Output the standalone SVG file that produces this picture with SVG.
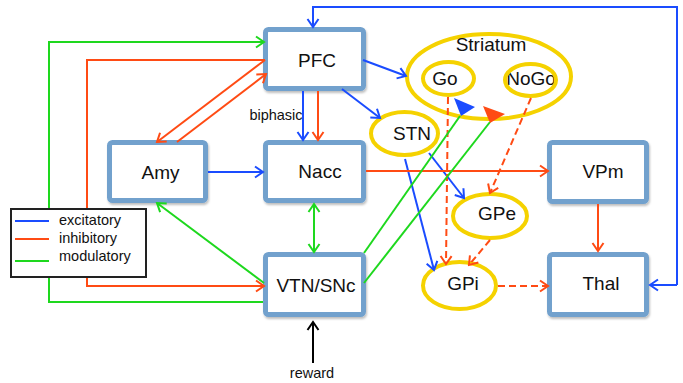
<svg xmlns="http://www.w3.org/2000/svg" width="683" height="383" viewBox="0 0 683 383">
  <defs>
    <style>
      .box { fill: #ffffff; stroke: #72a1cd; stroke-width: 5; }
      .oval { fill: none; stroke: #f5d200; stroke-width: 4; }
      .lbl { font-family: "Liberation Sans", Arial, sans-serif; font-size: 19px; fill: #111111; text-anchor: middle; }
      .small { font-family: "Liberation Sans", Arial, sans-serif; font-size: 14.5px; fill: #111111; }
      .ln { fill: none; stroke-width: 2; }
      .exc { stroke: #1a4cff; }
      .inh { stroke: #ff4b14; }
      .mod { stroke: #1ed81e; }
      .blk { stroke: #000000; }
      .dash { stroke-dasharray: 7 4; }
    </style>
    <filter id="shadow" x="-10%" y="-10%" width="130%" height="130%">
      <feDropShadow dx="1" dy="2" stdDeviation="1.2" flood-color="#000000" flood-opacity="0.25"/>
    </filter>
    <marker id="aBlue" markerUnits="userSpaceOnUse" markerWidth="12" markerHeight="14" viewBox="0 0 12 14" refX="10" refY="7" orient="auto-start-reverse">
      <path d="M2,1.5 L10,7 L2,12.5" fill="none" stroke="#1a4cff" stroke-width="2"/>
    </marker>
    <marker id="aRed" markerUnits="userSpaceOnUse" markerWidth="12" markerHeight="14" viewBox="0 0 12 14" refX="10" refY="7" orient="auto-start-reverse">
      <path d="M2,1.5 L10,7 L2,12.5" fill="none" stroke="#ff4b14" stroke-width="2"/>
    </marker>
    <marker id="aGreen" markerUnits="userSpaceOnUse" markerWidth="12" markerHeight="14" viewBox="0 0 12 14" refX="10" refY="7" orient="auto-start-reverse">
      <path d="M2,1.5 L10,7 L2,12.5" fill="none" stroke="#1ed81e" stroke-width="2"/>
    </marker>
    <marker id="aBlack" markerUnits="userSpaceOnUse" markerWidth="12" markerHeight="14" viewBox="0 0 12 14" refX="10" refY="7" orient="auto-start-reverse">
      <path d="M2,1.5 L10,7 L2,12.5" fill="none" stroke="#000000" stroke-width="2"/>
    </marker>
  </defs>

  <rect width="683" height="383" fill="#ffffff"/>

  <!-- rectangular regions -->
  <g id="PFC"><rect class="box" x="265.5" y="29.5" width="98" height="59" rx="3" filter="url(#shadow)"/><text class="lbl" x="317" y="67">PFC</text></g>
  <g id="Amy"><rect class="box" x="109.5" y="142.5" width="96" height="58" rx="3" filter="url(#shadow)"/><text class="lbl" x="160.5" y="179">Amy</text></g>
  <g id="Nacc"><rect class="box" x="265.5" y="142.5" width="98" height="58" rx="3" filter="url(#shadow)"/><text class="lbl" x="320" y="178">Nacc</text></g>
  <g id="VTN_SNc"><rect class="box" x="265.5" y="254.5" width="98" height="60" rx="3" filter="url(#shadow)"/><text class="lbl" x="316" y="292">VTN/SNc</text></g>
  <g id="VPm"><rect class="box" x="549.5" y="142.5" width="97" height="59" rx="3" filter="url(#shadow)"/><text class="lbl" x="603" y="178">VPm</text></g>
  <g id="Thal"><rect class="box" x="549.5" y="254.5" width="97" height="60" rx="3" filter="url(#shadow)"/><text class="lbl" x="601" y="290">Thal</text></g>

  <!-- basal ganglia nuclei -->
  <g id="Striatum"><ellipse class="oval" cx="489" cy="76.5" rx="82" ry="42.5"/><text class="lbl" x="491" y="51">Striatum</text></g>
  <g id="Go"><text class="lbl" x="445" y="85">Go</text><ellipse class="oval" cx="448.5" cy="78.5" rx="25.5" ry="16.5"/></g>
  <g id="NoGo"><text class="lbl" x="531" y="85">NoGo</text><ellipse class="oval" cx="530.5" cy="80" rx="25.5" ry="16"/></g>
  <g id="STN"><ellipse class="oval" cx="404.5" cy="133.5" rx="33.5" ry="21.5"/><text class="lbl" x="412" y="140">STN</text></g>
  <g id="GPe"><ellipse class="oval" cx="490" cy="216" rx="37" ry="22"/><text class="lbl" x="497" y="220">GPe</text></g>
  <g id="GPi"><ellipse class="oval" cx="459.5" cy="285.5" rx="36.5" ry="23.5"/><text class="lbl" x="463" y="290">GPi</text></g>

  <!-- projections -->
  <g id="connectors">
    <!-- excitatory -->
    <path class="ln exc" d="M677,285 V7 H313 V27" marker-end="url(#aBlue)"/>
    <path class="ln exc" d="M677,285 H650" marker-end="url(#aBlue)"/>
    <path class="ln exc" d="M363,60 L406,76" marker-end="url(#aBlue)"/>
    <path class="ln exc" d="M342,89 L380,118" marker-end="url(#aBlue)"/>
    <path class="ln exc" d="M303,91 V140" marker-end="url(#aBlue)"/>
    <path class="ln exc" d="M208,172 H263" marker-end="url(#aBlue)"/>
    <path class="ln exc" d="M405,159 L434,270" marker-end="url(#aBlue)"/>
    <path class="ln exc" d="M429,153 L464,198" marker-end="url(#aBlue)"/>

    <!-- inhibitory -->
    <path class="ln inh" d="M318,91 V140" marker-end="url(#aRed)"/>
    <path class="ln inh" d="M265,60 L157,142" marker-end="url(#aRed)"/>
    <path class="ln inh" d="M177,142 L266,74" marker-end="url(#aRed)"/>
    <path class="ln inh" d="M265,60 H87 V286 H264" marker-end="url(#aRed)"/>
    <path class="ln inh" d="M366,171 H548" marker-end="url(#aRed)"/>
    <path class="ln inh" d="M598,204 V251" marker-end="url(#aRed)"/>
    <path class="ln inh dash" d="M448,97 L446,264" marker-end="url(#aRed)"/>
    <path class="ln inh dash" d="M531,98 L490,193" marker-end="url(#aRed)"/>
    <path class="ln inh dash" d="M490,240 L469,265" marker-end="url(#aRed)"/>
    <path class="ln inh dash" d="M498,286 H548" marker-end="url(#aRed)"/>

    <!-- modulatory -->
    <path class="ln mod" d="M263,302 H49 V42 H264" marker-end="url(#aGreen)"/>
    <path class="ln mod" d="M264,283 L157,203" marker-end="url(#aGreen)"/>
    <path class="ln mod" d="M314,204 V252" marker-start="url(#aGreen)" marker-end="url(#aGreen)"/>
    <path class="ln mod" d="M364,253 L460,116"/>
    <path class="ln mod" d="M364,283 L490,122"/>
    <polygon points="454,98 475,107 461,116" fill="#1a4cff"/>
    <polygon points="483,106 505,114 490,123" fill="#ff4b14"/>

    <!-- external input -->
    <path class="ln blk" d="M313,363 V322" marker-end="url(#aBlack)"/>
  </g>

  <text class="small" x="276" y="120" text-anchor="middle">biphasic</text>
  <text class="small" x="312" y="378" text-anchor="middle" font-size="14px">reward</text>

  <!-- key -->
  <g id="legend">
    <rect x="11" y="209" width="135" height="68" fill="#ffffff" stroke="#222222" stroke-width="2"/>
    <line x1="15" y1="221" x2="49" y2="221" class="ln exc"/>
    <line x1="15" y1="239" x2="49" y2="239" class="ln inh"/>
    <line x1="15" y1="261" x2="49" y2="261" class="ln mod"/>
    <text class="small" x="59" y="225">excitatory</text>
    <text class="small" x="59" y="243">inhibitory</text>
    <text class="small" x="59" y="261">modulatory</text>
  </g>
</svg>
